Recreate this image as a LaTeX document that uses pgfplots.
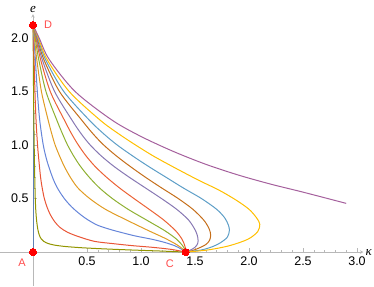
\documentclass[border=0pt]{standalone}
\usepackage{pgfplots}
\pgfplotsset{compat=1.18}
\usepackage{fontspec}
\setmainfont{Liberation Sans}
\newfontfamily\seriffont{Liberation Serif}
\definecolor{c1}{rgb}{0.368417,0.506779,0.709798}
\definecolor{c2}{rgb}{0.880722,0.611041,0.142051}
\definecolor{c3}{rgb}{0.560181,0.691569,0.194885}
\definecolor{c4}{rgb}{0.922526,0.385626,0.209179}
\definecolor{c5}{rgb}{0.528488,0.470624,0.701351}
\definecolor{c6}{rgb}{0.772079,0.431554,0.102387}
\definecolor{c7}{rgb}{0.363898,0.618501,0.782349}
\definecolor{c8}{rgb}{1,0.75,0}
\definecolor{c9}{rgb}{0.647624,0.37816,0.614037}
\definecolor{c10}{rgb}{0.571589,0.586483,0}
\definecolor{c11}{rgb}{0.915,0.3325,0.2125}
\definecolor{c12}{rgb}{0.4008,0.5220,0.85}
\definecolor{axgray}{rgb}{0.72,0.72,0.72}
\definecolor{lblred}{rgb}{1,0.3,0.3}
\begin{document}
\begin{tikzpicture}
\begin{axis}[
  scale only axis, width=363.4pt, height=272pt,
  xmin=-0.3056, xmax=3.06, ymin=-0.3178, ymax=2.224,
  axis lines=middle,
  axis line style={draw=axgray, line width=0.6pt},
  clip=false,
  xtick={0.5,1,1.5,2,2.5,3}, xticklabels={0.5,1.0,1.5,2.0,2.5,3.0},
  ytick={0.5,1,1.5,2}, yticklabels={0.5,1.0,1.5,2.0},
  minor x tick num=4, minor y tick num=4,
  tick style={draw=axgray, line width=0.5pt},
  major tick length=4pt, minor tick length=2.5pt,
  tick align=inside,
  ticklabel style={font=\fontsize{12.5}{14}\selectfont, text=black},
  xticklabel style={yshift=-1pt},
  yticklabel style={xshift=-1pt},
  xlabel={\seriffont\itshape κ}, ylabel={\seriffont\itshape e},
  every axis x label/.style={at={(axis cs:3.06,0)}, anchor=west, font=\fontsize{13}{14}\selectfont, inner sep=2pt},
  every axis y label/.style={at={(axis cs:0,2.224)}, anchor=south, font=\fontsize{13}{14}\selectfont, inner sep=1pt},
  every axis plot/.append style={line width=1pt, smooth, no markers},
]
\addplot[c1, sharp plot] coordinates {(0,2.121) (0,0)};
\addplot[c10] coordinates {(0,2.121) (0.001,2.0) (0.003,1.8) (0.005,1.5) (0.008,1.234) (0.011,1.0) (0.016,0.7) (0.021,0.5) (0.027,0.37) (0.035,0.28) (0.045,0.21) (0.058,0.16) (0.075,0.125) (0.1,0.1) (0.14,0.08) (0.2,0.065) (0.3,0.052) (0.46,0.04) (0.7,0.028) (0.95,0.018) (1.2,0.009) (1.414,0)};
\addplot[c11] coordinates {(0,2.121) (0.004,2.0) (0.01,1.8) (0.018,1.5) (0.028,1.234) (0.042,1.0) (0.055,0.85) (0.07,0.7) (0.085,0.6) (0.105,0.5) (0.13,0.42) (0.16,0.35) (0.2,0.285) (0.25,0.23) (0.32,0.185) (0.42,0.145) (0.57,0.1) (0.75,0.078) (0.92,0.06) (1.1,0.045) (1.28,0.025) (1.414,0)};
\addplot[c12] coordinates {(0,2.121) (0.008,2.0) (0.022,1.8) (0.04,1.5) (0.062,1.234) (0.095,1.0) (0.13,0.85) (0.18,0.7) (0.225,0.6) (0.29,0.5) (0.36,0.42) (0.44,0.35) (0.51,0.3) (0.6,0.25) (0.72,0.21) (0.83,0.18) (0.95,0.15) (1.1,0.12) (1.22,0.09) (1.31,0.06) (1.37,0.03) (1.414,0)};
\addplot[c2] coordinates {(0,2.121) (0.013,2.0) (0.035,1.8) (0.078,1.5) (0.14,1.234) (0.175,1.1) (0.205,1.0) (0.245,0.9) (0.29,0.8) (0.345,0.7) (0.415,0.6) (0.525,0.5) (0.67,0.4) (0.865,0.3) (1.07,0.2) (1.22,0.13) (1.33,0.07) (1.385,0.03) (1.414,0)};
\addplot[c3] coordinates {(0,2.121) (0.02,2.0) (0.053,1.8) (0.12,1.5) (0.22,1.234) (0.275,1.1) (0.32,1.0) (0.375,0.9) (0.44,0.8) (0.52,0.7) (0.615,0.6) (0.735,0.5) (0.88,0.4) (1.05,0.3) (1.22,0.2) (1.33,0.12) (1.385,0.06) (1.408,0.02) (1.414,0)};
\addplot[c4] coordinates {(0,2.121) (0.027,2.0) (0.07,1.8) (0.16,1.5) (0.29,1.234) (0.36,1.1) (0.42,1.0) (0.49,0.9) (0.575,0.8) (0.68,0.7) (0.8,0.6) (0.935,0.5) (1.075,0.4) (1.21,0.3) (1.32,0.2) (1.38,0.12) (1.405,0.06) (1.413,0.025) (1.414,0)};
\addplot[c5] coordinates {(0,2.121) (0.032,2.0) (0.085,1.8) (0.2,1.5) (0.36,1.234) (0.45,1.1) (0.53,1.0) (0.63,0.9) (0.75,0.8) (0.89,0.7) (1.04,0.6) (1.19,0.5) (1.33,0.4) (1.44,0.3) (1.505,0.2) (1.527,0.13) (1.525,0.08) (1.5,0.045) (1.46,0.02) (1.414,0)};
\addplot[c6] coordinates {(0,2.121) (0.038,2.0) (0.1,1.8) (0.245,1.5) (0.45,1.234) (0.56,1.1) (0.655,1.0) (0.77,0.9) (0.9,0.8) (1.04,0.7) (1.19,0.6) (1.345,0.5) (1.48,0.4) (1.58,0.3) (1.63,0.22) (1.645,0.16) (1.635,0.11) (1.6,0.07) (1.53,0.035) (1.47,0.012) (1.414,0)};
\addplot[c7] coordinates {(0,2.121) (0.044,2.0) (0.115,1.8) (0.285,1.5) (0.52,1.234) (0.66,1.1) (0.78,1.0) (0.92,0.9) (1.07,0.8) (1.23,0.7) (1.39,0.6) (1.56,0.5) (1.7,0.4) (1.775,0.32) (1.81,0.25) (1.818,0.2) (1.80,0.14) (1.74,0.09) (1.66,0.05) (1.56,0.02) (1.414,0)};
\addplot[c8] coordinates {(0,2.121) (0.05,2.0) (0.13,1.8) (0.335,1.5) (0.62,1.234) (0.8,1.1) (0.95,1.0) (1.11,0.9) (1.29,0.8) (1.53,0.673) (1.72,0.58) (1.88,0.486) (2.0,0.4) (2.07,0.32) (2.1,0.26) (2.08,0.19) (1.99,0.12) (1.82,0.06) (1.62,0.02) (1.414,0)};
\addplot[c9] coordinates {(0,2.121) (0.057,2.0) (0.15,1.8) (0.39,1.5) (0.73,1.234) (1.0,1.08) (1.3,0.94) (1.6,0.82) (1.9,0.72) (2.2,0.635) (2.5,0.56) (2.9,0.455)};
\addplot[only marks, mark=*, mark size=3.6pt, mark options={fill=red, draw=red}, line width=0pt] coordinates {(0,0) (1.414,0) (0,2.121)};
\node[text=lblred, font=\fontsize{11}{12}\selectfont] at (axis cs:-0.102,-0.103) {A};
\node[text=lblred, font=\fontsize{11}{12}\selectfont] at (axis cs:1.268,-0.112) {C};
\node[text=lblred, font=\fontsize{11}{12}\selectfont] at (axis cs:0.139,2.121) {D};
\coordinate (bbl) at (axis cs:-0.3056,-0.3178);
\coordinate (btr) at (axis cs:3.1574,2.3551);
\end{axis}
\pgfresetboundingbox
\useasboundingbox (bbl) rectangle (btr);
\end{tikzpicture}
\end{document}
